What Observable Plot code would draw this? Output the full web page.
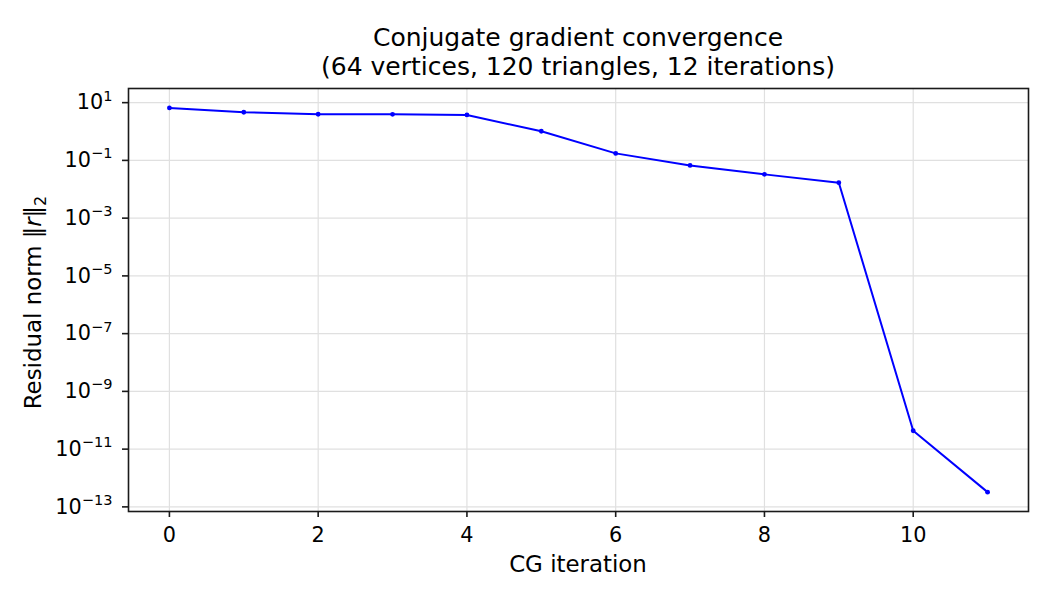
<!DOCTYPE html>
<html><head><meta charset="utf-8">
<script src="https://cdn.jsdelivr.net/npm/d3@7"></script>
<script src="https://cdn.jsdelivr.net/npm/@observablehq/plot@0.6"></script>
<style>
body{margin:0;background:#fff}
#chart svg{font-family:"DejaVu Sans",sans-serif;display:block}
</style>
</head><body><div id="chart"></div>
<script>
const iterations = [0, 1, 2, 3, 4, 5, 6, 7, 8, 9, 10, 11];
const residuals = [6.56, 4.65, 3.97, 3.95, 3.75, 1.02, 0.175, 0.067, 0.0328, 0.0169, 4.34e-11, 3.24e-13];
const xTicks = [0, 2, 4, 6, 8, 10];
const yTickExponents = [1, -1, -3, -5, -7, -9, -11, -13];
const titleLines = ["Conjugate gradient convergence", "(64 vertices, 120 triangles, 12 iterations)"];
const xLabel = "CG iteration";

const data = iterations.map((it, i) => ({it, r: residuals[i]}));
const yTicks = yTickExponents.map(e => Math.pow(10, e));

const W = 1050, H = 600, ML = 128, MR = 22, MT = 88, MB = 89;
const ink = "#1a1a1a";

const svg = Plot.plot({
  width: W, height: H,
  marginLeft: ML, marginRight: MR, marginTop: MT, marginBottom: MB,
  style: {fontFamily: "DejaVu Sans, sans-serif", fontSize: "20.8px", color: "#000", background: "#fff"},
  x: {domain: [-0.55, 11.55]},
  y: {type: "log", domain: [Math.pow(10, -13.16), Math.pow(10, 1.49)]},
  marks: [
    Plot.gridX(xTicks, {stroke: "#e0e0e0", strokeOpacity: 1, strokeWidth: 1.2}),
    Plot.gridY(yTicks, {stroke: "#e0e0e0", strokeOpacity: 1, strokeWidth: 1.2}),
    Plot.line(data, {x: "it", y: "r", stroke: "#0000ff", strokeWidth: 2}),
    Plot.dot(data, {x: "it", y: "r", r: 2.4, fill: "#0000ff", stroke: "none"}),
    Plot.frame({stroke: ink, strokeWidth: 1.6}),
    Plot.axisX(xTicks, {tickSize: 6, tickPadding: 10, label: null, stroke: ink, strokeWidth: 1.6, fontSize: 20.8, tickFormat: d => String(d)}),
    Plot.axisY(yTicks, {tickSize: 6, tickPadding: 10, label: null, stroke: ink, strokeWidth: 1.6, fontSize: 20.8,
      tickFormat: d => String(Math.round(Math.log10(d)))})
  ]
});

document.getElementById("chart").appendChild(svg);

// Rebuild y tick labels as 10 with superscript exponent
const sel = d3.select(svg);
sel.selectAll('[aria-label="y-axis tick label"] text').each(function() {
  const t = d3.select(this);
  const e = t.text().replace("-", "\u2212");
  t.text(null);
  t.append("tspan").text("10");
  t.append("tspan").attr("font-size", "0.7em").attr("dy", "-0.6em").text(e);
});

const cx = (ML + (W - MR)) / 2;
// Title
titleLines.forEach((line, i) => {
  sel.append("text").attr("x", cx).attr("y", 46 + i * 28.5)
    .attr("text-anchor", "middle").attr("font-size", 25).attr("fill", "#000").text(line);
});
// X label
sel.append("text").attr("x", cx).attr("y", 572.3).attr("text-anchor", "middle")
  .attr("font-size", 22.9).attr("fill", "#000").text(xLabel);
// Y label
const yl = sel.append("text").attr("transform", `translate(41,${(MT + H - MB) / 2 + 3}) rotate(-90)`)
  .attr("text-anchor", "middle").attr("font-size", 22.9).attr("fill", "#000");
yl.append("tspan").text("Residual norm \u2016");
yl.append("tspan").attr("font-style", "italic").text("r");
yl.append("tspan").text("\u2016");
yl.append("tspan").attr("font-size", "0.7em").attr("dy", "0.3em").text("2");
</script>
</body></html>
